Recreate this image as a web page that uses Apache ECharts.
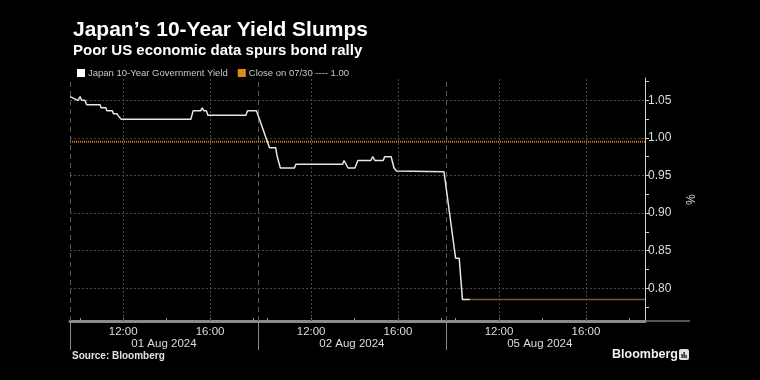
<!DOCTYPE html>
<html><head><meta charset="utf-8">
<script src="https://cdn.jsdelivr.net/npm/echarts@6/dist/echarts.min.js"></script>
<style>html,body{margin:0;padding:0;background:#000}#c{width:760px;height:380px}</style>
</head><body><div id="c"></div>
<script>
// ---- data ----
const days = ["01 Aug 2024", "02 Aug 2024", "05 Aug 2024"];
const labelTimes = ["12:00", "16:00"];
const tickTimes = ["10:00", "12:00", "14:00", "16:00", "18:00"];
const yLabels = [0.80, 0.85, 0.90, 0.95, 1.00, 1.05];
const closeValue = 0.995;
const closeName = "Close on 07/30 ---- 1.00";
const yieldName = "Japan 10-Year Government Yield";

const day1Times  = ["09:33","09:55","10:01","10:05","10:14","10:19","10:56","10:59","11:12","11:15","11:30","11:33","11:43","11:47","11:50","11:54","15:07","15:13","15:34","15:38","15:43","15:50","15:54","17:39","17:43","18:08"];
const day1Yields = [1.055,1.050,1.055,1.050,1.050,1.044,1.044,1.040,1.040,1.036,1.036,1.032,1.032,1.029,1.029,1.025,1.025,1.036,1.036,1.040,1.036,1.036,1.030,1.030,1.036,1.036];
const day2Times  = ["10:05","10:22","10:26","10:31","10:35","11:14","11:18","13:27","13:31","13:42","14:01","14:09","14:45","14:50","14:56","15:19","15:23","15:41","15:49","15:56","16:01","18:07"];
const day2Yields = [0.987,0.987,0.976,0.976,0.960,0.960,0.965,0.965,0.970,0.960,0.960,0.970,0.970,0.975,0.970,0.970,0.975,0.975,0.960,0.956,0.955,0.955];
const day3Times  = ["10:00","10:10","10:19","10:40"];
const day3Yields = [0.840,0.840,0.785,0.785];

// ---- axis geometry (trading-session compressed time axis) ----
const DAY_START = 9.55, DAY_LEN = 8.65, X_MAX = 26.47;
const Y_MIN = 0.7565, Y_MAX = 1.0797;

function toX(d, t) { const p = t.split(':'); return d * DAY_LEN + (+p[0] + p[1] / 60 - DAY_START); }

const dayTimes = [day1Times, day2Times, day3Times];
const dayYields = [day1Yields, day2Yields, day3Yields];
const yieldData = [];
dayTimes.forEach((ts, d) => ts.forEach((t, i) => yieldData.push([toX(d, t), dayYields[d][i]])));
const last = yieldData[yieldData.length - 1];

const labelItems = [];
days.forEach((_, d) => labelTimes.forEach(t => labelItems.push({ v: toX(d, t), text: t })));
const tickVals = [];
days.forEach((_, d) => tickTimes.forEach(t => tickVals.push(toX(d, t))));
const dayStarts = days.map((_, d) => d * DAY_LEN);
const dayMids = days.map((_, d) => d * DAY_LEN + DAY_LEN / 2);
const yTickVals = [];
yLabels.forEach(v => { yTickVals.push(+(v - 0.025).toFixed(3)); yTickVals.push(v); });
yTickVals.push(+(yLabels[yLabels.length - 1] + 0.025).toFixed(3));

const gridColor = '#4a4a4a';
const markData = [];
yLabels.forEach(v => markData.push({ yAxis: v, lineStyle: { color: gridColor, type: [2, 2], width: 1 } }));
labelItems.forEach(it => markData.push({ xAxis: it.v, lineStyle: { color: gridColor, type: [2, 2], width: 1 } }));
dayStarts.forEach(v => markData.push({ xAxis: v, lineStyle: { color: '#5a5a5a', type: [5, 4], width: 1 } }));

const FONT = 'Liberation Sans';
const chart = echarts.init(document.getElementById('c'), null, { renderer: 'canvas' });
chart.setOption({
  backgroundColor: '#000',
  animation: false,
  textStyle: { fontFamily: FONT },
  title: {
    text: 'Japan’s 10-Year Yield Slumps',
    subtext: 'Poor US economic data spurs bond rally',
    left: 68, top: 15, itemGap: 2,
    textStyle: { color: '#fff', fontSize: 21, fontWeight: 'bold', fontFamily: FONT },
    subtextStyle: { color: '#fff', fontSize: 15, fontWeight: 'bold', fontFamily: FONT }
  },
  legend: {
    data: [yieldName, closeName],
    left: 72, top: 63, icon: 'rect', itemWidth: 8, itemHeight: 8, itemGap: 10,
    textStyle: { color: '#c8c8c8', fontSize: 9.5, padding: [0, 0, 0, -2] },
    selectedMode: false
  },
  grid: { left: 70, right: 115, top: 78, bottom: 59, containLabel: false, outerBoundsMode: 'none' },
  xAxis: [{
    type: 'value', min: 0, max: X_MAX,
    axisLine: { show: true, onZero: false, lineStyle: { color: '#8a8a8a', width: 3 } },
    axisTick: { show: true, inside: true, length: 3, customValues: tickVals, lineStyle: { color: '#9a9a9a' } },
    axisLabel: {
      customValues: labelItems.map(it => it.v), color: '#ddd', fontSize: 11.5, margin: 5,
      formatter: v => { const it = labelItems.find(o => Math.abs(o.v - v) < 1e-6); return it ? it.text : ''; }
    },
    splitLine: { show: false }
  }, {
    type: 'value', min: 0, max: X_MAX, position: 'bottom',
    axisLine: { show: false, onZero: false },
    axisTick: { show: true, length: 29, customValues: dayStarts, lineStyle: { color: '#8a8a8a', width: 1 } },
    axisLabel: {
      customValues: dayMids, color: '#ddd', fontSize: 11.5, margin: 17,
      formatter: v => { const i = dayMids.findIndex(m => Math.abs(m - v) < 1e-6); return i >= 0 ? days[i] : ''; }
    },
    splitLine: { show: false }
  }],
  yAxis: {
    type: 'value', position: 'right', min: Y_MIN, max: Y_MAX,
    name: '%', nameLocation: 'middle', nameGap: 38, nameRotate: -90,
    nameTextStyle: { color: '#ddd', fontSize: 12 },
    axisLine: { show: true, onZero: false, lineStyle: { color: '#d0d0d0', width: 1 } },
    axisTick: { show: true, length: 4, customValues: yTickVals, lineStyle: { color: '#d0d0d0' } },
    axisLabel: { customValues: yLabels, formatter: v => v.toFixed(2), color: '#ddd', fontSize: 12, margin: 3 },
    splitLine: { show: false }
  },
  series: [
    { name: 'grid', type: 'line', data: [], z: 0, silent: true,
      markLine: { silent: true, symbol: ['none', 'none'], label: { show: false }, animation: false, data: markData } },
    { name: closeName, type: 'line', data: [[0, closeValue], [X_MAX, closeValue]], z: 2, symbol: 'none', silent: true,
      color: '#e08a12', lineStyle: { color: '#c67a14', width: 2, type: [1, 1] }, itemStyle: { color: '#e08a12' } },
    { name: 'last', type: 'line', data: [last, [X_MAX, last[1]]], z: 3, symbol: 'none', silent: true,
      lineStyle: { color: '#7a5530', width: 1.5 } },
    { name: yieldName, type: 'line', data: yieldData, z: 5, symbol: 'none', silent: true,
      color: '#ffffff', lineStyle: { color: '#e6e6e6', width: 1.5 }, itemStyle: { color: '#ffffff' } }
  ],
  graphic: [
    { type: 'rect', left: 645, top: 320, shape: { width: 45, height: 2 }, style: { fill: '#555' } },
    { type: 'text', left: 72, top: 351, style: { text: 'Source: Bloomberg', fill: '#e0e0e0', font: 'bold 10px "Liberation Sans"' } },
    { type: 'text', left: 612, top: 348, style: { text: 'Bloomberg', fill: '#f0f0f0', font: 'bold 12.5px "Liberation Sans"' } },
    { type: 'rect', left: 679, top: 349, shape: { width: 10, height: 11, r: 2 }, style: { fill: '#e0e0e0' } },
    { type: 'rect', left: 681.5, top: 354, shape: { width: 1.2, height: 4 }, style: { fill: '#000' } },
    { type: 'rect', left: 683.5, top: 352, shape: { width: 1.2, height: 6 }, style: { fill: '#000' } },
    { type: 'rect', left: 685.5, top: 355, shape: { width: 1.2, height: 3 }, style: { fill: '#000' } }
  ]
});
</script></body></html>
